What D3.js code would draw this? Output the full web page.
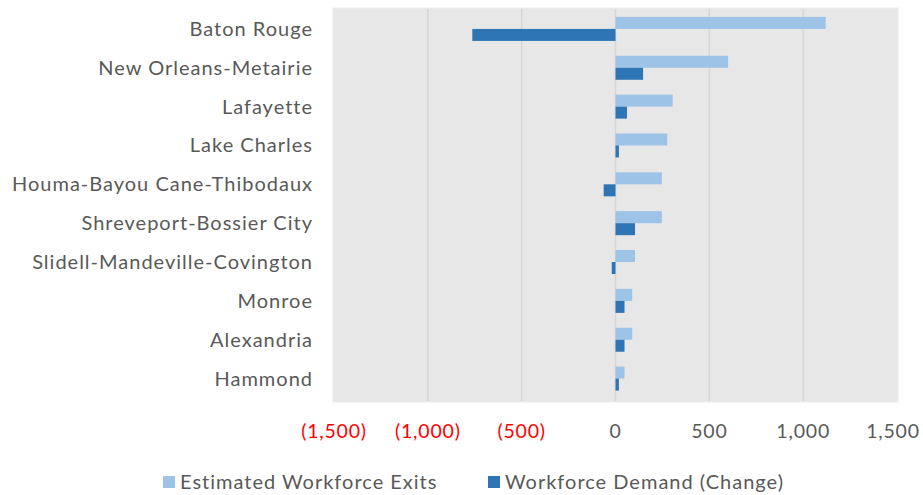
<!DOCTYPE html>
<html>
<head>
<meta charset="utf-8">
<script src="https://cdn.jsdelivr.net/npm/d3@7"></script>
<style>
  html, body { margin: 0; padding: 0; background: #ffffff; }
  svg { display: block; }
  text { font-family: Lato, "Open Sans", sans-serif; fill: #595959; }
</style>
</head>
<body>
<svg id="chart" width="923" height="495"></svg>
<script>
const categories = ["Baton Rouge", "New Orleans-Metairie", "Lafayette", "Lake Charles",
  "Houma-Bayou Cane-Thibodaux", "Shreveport-Bossier City", "Slidell-Mandeville-Covington",
  "Monroe", "Alexandria", "Hammond"];
const seriesNames = ["Estimated Workforce Exits", "Workforce Demand (Change)"];
const exitsValues = [1120, 600, 305, 276, 247, 247, 104, 89, 89, 48];
const demandValues = [-763, 147, 61, 18, -63, 104, -20, 48, 48, 18];
const tickValues = [-1500, -1000, -500, 0, 500, 1000, 1500];
const tickLabels = ["(1,500)", "(1,000)", "(500)", "0", "500", "1,000", "1,500"];
const colors = ["#9dc3e6", "#2e75b6"];

const svg = d3.select("#chart");
const plot = { left: 333, right: 898, top: 8, bottom: 402 };

const x = d3.scaleLinear().domain([-1500, 1500]).range([plot.left + 1, plot.right - 1]);
const y = d3.scaleBand().domain(categories).range([9.5, 398]).paddingInner(0.382).paddingOuter(0.191);
const ySub = d3.scaleBand().domain(seriesNames).range([0, y.bandwidth()]);

// plot background
svg.append("rect")
  .attr("x", plot.left).attr("y", plot.top)
  .attr("width", plot.right - plot.left).attr("height", plot.bottom - plot.top)
  .attr("fill", "#e7e7e7")
  .attr("stroke", "#ededed").attr("stroke-width", 1);

// gridlines
svg.append("g").selectAll("line")
  .data(tickValues.filter(v => v !== -1500 && v !== 1500))
  .join("line")
  .attr("x1", d => x(d)).attr("x2", d => x(d))
  .attr("y1", plot.top + 1).attr("y2", plot.bottom - 1)
  .attr("stroke", "#d6d6d6").attr("stroke-width", 1.5);

// bars
const data = categories.map((c, i) => ({ cat: c, vals: [exitsValues[i], demandValues[i]] }));
const groups = svg.append("g").selectAll("g")
  .data(data).join("g")
  .attr("transform", d => `translate(0,${y(d.cat)})`);
groups.selectAll("rect")
  .data(d => d.vals.map((v, j) => ({ v, s: seriesNames[j], j })))
  .join("rect")
  .attr("x", d => Math.min(x(0), x(d.v)))
  .attr("width", d => Math.abs(x(d.v) - x(0)))
  .attr("y", d => ySub(d.s))
  .attr("height", ySub.bandwidth())
  .attr("fill", d => colors[d.j]);

// category labels
svg.append("g").selectAll("text")
  .data(categories).join("text")
  .attr("x", 313)
  .attr("y", d => y(d) + y.bandwidth() / 2)
  .attr("dy", "0.35em")
  .attr("text-anchor", "end")
  .attr("font-size", 20)
  .attr("letter-spacing", "1px")
  .text(d => d);

// x axis tick labels
svg.append("g").selectAll("text")
  .data(tickValues).join("text")
  .attr("x", (d, i) => x(d) + (d === 1500 ? -4 : 0))
  .attr("y", 431)
  .attr("dy", "0.35em")
  .attr("text-anchor", "middle")
  .attr("font-size", 19.5)
  .attr("letter-spacing", "0.8px")
  .style("fill", d => d < 0 ? "#ff0000" : "#595959")
  .text((d, i) => tickLabels[i]);

// legend
const legendItems = [
  { name: seriesNames[0], color: colors[0], x: 163 },
  { name: seriesNames[1], color: colors[1], x: 488 }
];
const lg = svg.append("g").selectAll("g").data(legendItems).join("g")
  .attr("transform", d => `translate(${d.x},482)`);
lg.append("rect").attr("x", 0).attr("y", -6).attr("width", 12).attr("height", 12).attr("fill", d => d.color);
lg.append("text").attr("x", 17).attr("y", 0).attr("dy", "0.35em").attr("font-size", 20)
  .attr("letter-spacing", "1px").text(d => d.name);
</script>
</body>
</html>
